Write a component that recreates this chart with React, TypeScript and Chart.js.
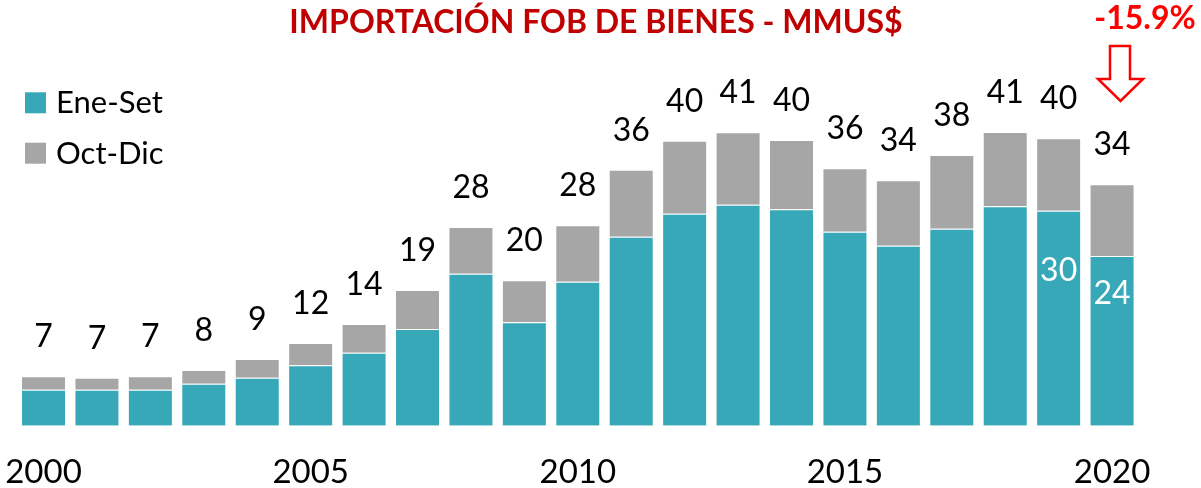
import React, { useEffect, useRef } from "react";
import { Chart, registerables } from "chart.js";

Chart.register(...registerables);

const years = [
  "2000", "2001", "2002", "2003", "2004", "2005", "2006", "2007", "2008", "2009", "2010",
  "2011", "2012", "2013", "2014", "2015", "2016", "2017", "2018", "2019", "2020",
];
const eneSet = [
  5.05, 5.05, 5.05, 5.89, 6.73, 8.47, 10.24, 13.56, 21.32, 14.5, 20.2,
  26.5, 29.73, 31.0, 30.35, 27.2, 25.25, 27.63, 30.77, 30.15, 23.8,
];
const octDic = [
  1.88, 1.68, 1.88, 1.92, 2.62, 3.13, 4.02, 5.47, 6.55, 5.9, 7.9,
  9.4, 10.24, 10.15, 9.72, 8.9, 9.17, 10.34, 10.42, 10.15, 10.06,
];
const tickYears = ["2000", "2005", "2010", "2015", "2020"];
const insideLabelIdx = [19, 20];
const seriesNames = ["Ene-Set", "Oct-Dic"];
const titleText = "IMPORTACIÓN FOB DE BIENES - MMUS$";
const changeText = "-15.9%";

const TEAL = "#37A8B8";
const GRAY = "#A6A6A6";
const FONT = "Lato, 'Open Sans', sans-serif";

export default function App() {
  const ref = useRef<HTMLCanvasElement | null>(null);

  useEffect(() => {
    document.body.style.margin = "0";
    const canvas = ref.current;
    if (!canvas) return;

    const labelsPlugin = {
      id: "customLabels",
      afterDatasetsDraw(chart: any) {
        const ctx = chart.ctx;
        const metaTop = chart.getDatasetMeta(1);
        const metaBottom = chart.getDatasetMeta(0);
        ctx.save();
        ctx.textAlign = "center";
        ctx.textBaseline = "alphabetic";
        ctx.font = `32px ${FONT}`;
        ctx.fillStyle = "#000000";
        metaTop.data.forEach((el: any, i: number) => {
          const total = Math.round(eneSet[i] + octDic[i]);
          ctx.fillText(String(total), el.x, el.y - 29);
        });
        ctx.fillStyle = "#FFFFFF";
        const offsets = [70, 48];
        insideLabelIdx.forEach((idx, k) => {
          const el: any = metaBottom.data[idx];
          ctx.fillText(String(Math.round(eneSet[idx])), el.x, el.y + offsets[k]);
        });
        ctx.restore();
      },
      afterDraw(chart: any) {
        const ctx = chart.ctx;
        ctx.save();
        // title
        ctx.textAlign = "center";
        ctx.textBaseline = "alphabetic";
        ctx.font = `bold 32px ${FONT}`;
        ctx.fillStyle = "#C00000";
        ctx.fillText(titleText, 596, 33);
        // change
        ctx.fillStyle = "#FF0000";
        ctx.fillText(changeText, 1145, 29);
        // arrow
        ctx.beginPath();
        ctx.moveTo(1110, 46);
        ctx.lineTo(1130, 46);
        ctx.lineTo(1130, 79);
        ctx.lineTo(1143, 79);
        ctx.lineTo(1120.5, 101);
        ctx.lineTo(1098, 79);
        ctx.lineTo(1110, 79);
        ctx.closePath();
        ctx.fillStyle = "#FFFFFF";
        ctx.fill();
        ctx.lineWidth = 2.5;
        ctx.strokeStyle = "#FF0000";
        ctx.stroke();
        // legend
        ctx.textAlign = "left";
        ctx.font = `31px ${FONT}`;
        const colors = [TEAL, GRAY];
        const ys = [92.3, 142.7];
        seriesNames.forEach((name, k) => {
          ctx.fillStyle = colors[k];
          ctx.fillRect(25, ys[k], 21, 21);
          ctx.fillStyle = "#000000";
          ctx.fillText(name, 56, ys[k] + 21);
        });
        ctx.restore();
      },
    };

    const chart = new Chart(canvas, {
      type: "bar",
      data: {
        labels: years,
        datasets: [
          {
            label: seriesNames[0],
            data: eneSet,
            backgroundColor: TEAL,
            borderColor: "rgba(255,255,255,0.35)",
            borderWidth: 1,
            barPercentage: 0.842,
            categoryPercentage: 1,
          },
          {
            label: seriesNames[1],
            data: octDic,
            backgroundColor: GRAY,
            borderColor: "rgba(255,255,255,0.35)",
            borderWidth: 1,
            barPercentage: 0.842,
            categoryPercentage: 1,
          },
        ],
      },
      options: {
        responsive: false,
        animation: false,
        devicePixelRatio: 1,
        layout: { autoPadding: false, padding: { top: 69.2, left: 16.8, right: 62.2, bottom: 0 } },
        plugins: {
          legend: { display: false },
          title: { display: false },
          tooltip: { enabled: false },
        },
        scales: {
          x: {
            stacked: true,
            grid: { display: false },
            border: { display: false },
            ticks: {
              autoSkip: false,
              maxRotation: 0,
              padding: 22,
              color: "#000000",
              font: { family: FONT, size: 33, lineHeight: 1 },
              callback: (_v: any, i: number) => (tickYears.includes(years[i]) ? years[i] : ""),
            },
            afterFit: (s: any) => {
              s.height = 62.3;
              s.paddingLeft = 0;
              s.paddingRight = 0;
            },
          },
          y: {
            stacked: true,
            display: false,
            min: 0,
            max: 50,
          },
        },
      },
      plugins: [labelsPlugin],
    });

    return () => chart.destroy();
  }, []);

  return (
    <div style={{ position: "relative", width: 1201, height: 488 }}>
      <canvas ref={ref} width={1201} height={488} style={{ display: "block" }} />
    </div>
  );
}
